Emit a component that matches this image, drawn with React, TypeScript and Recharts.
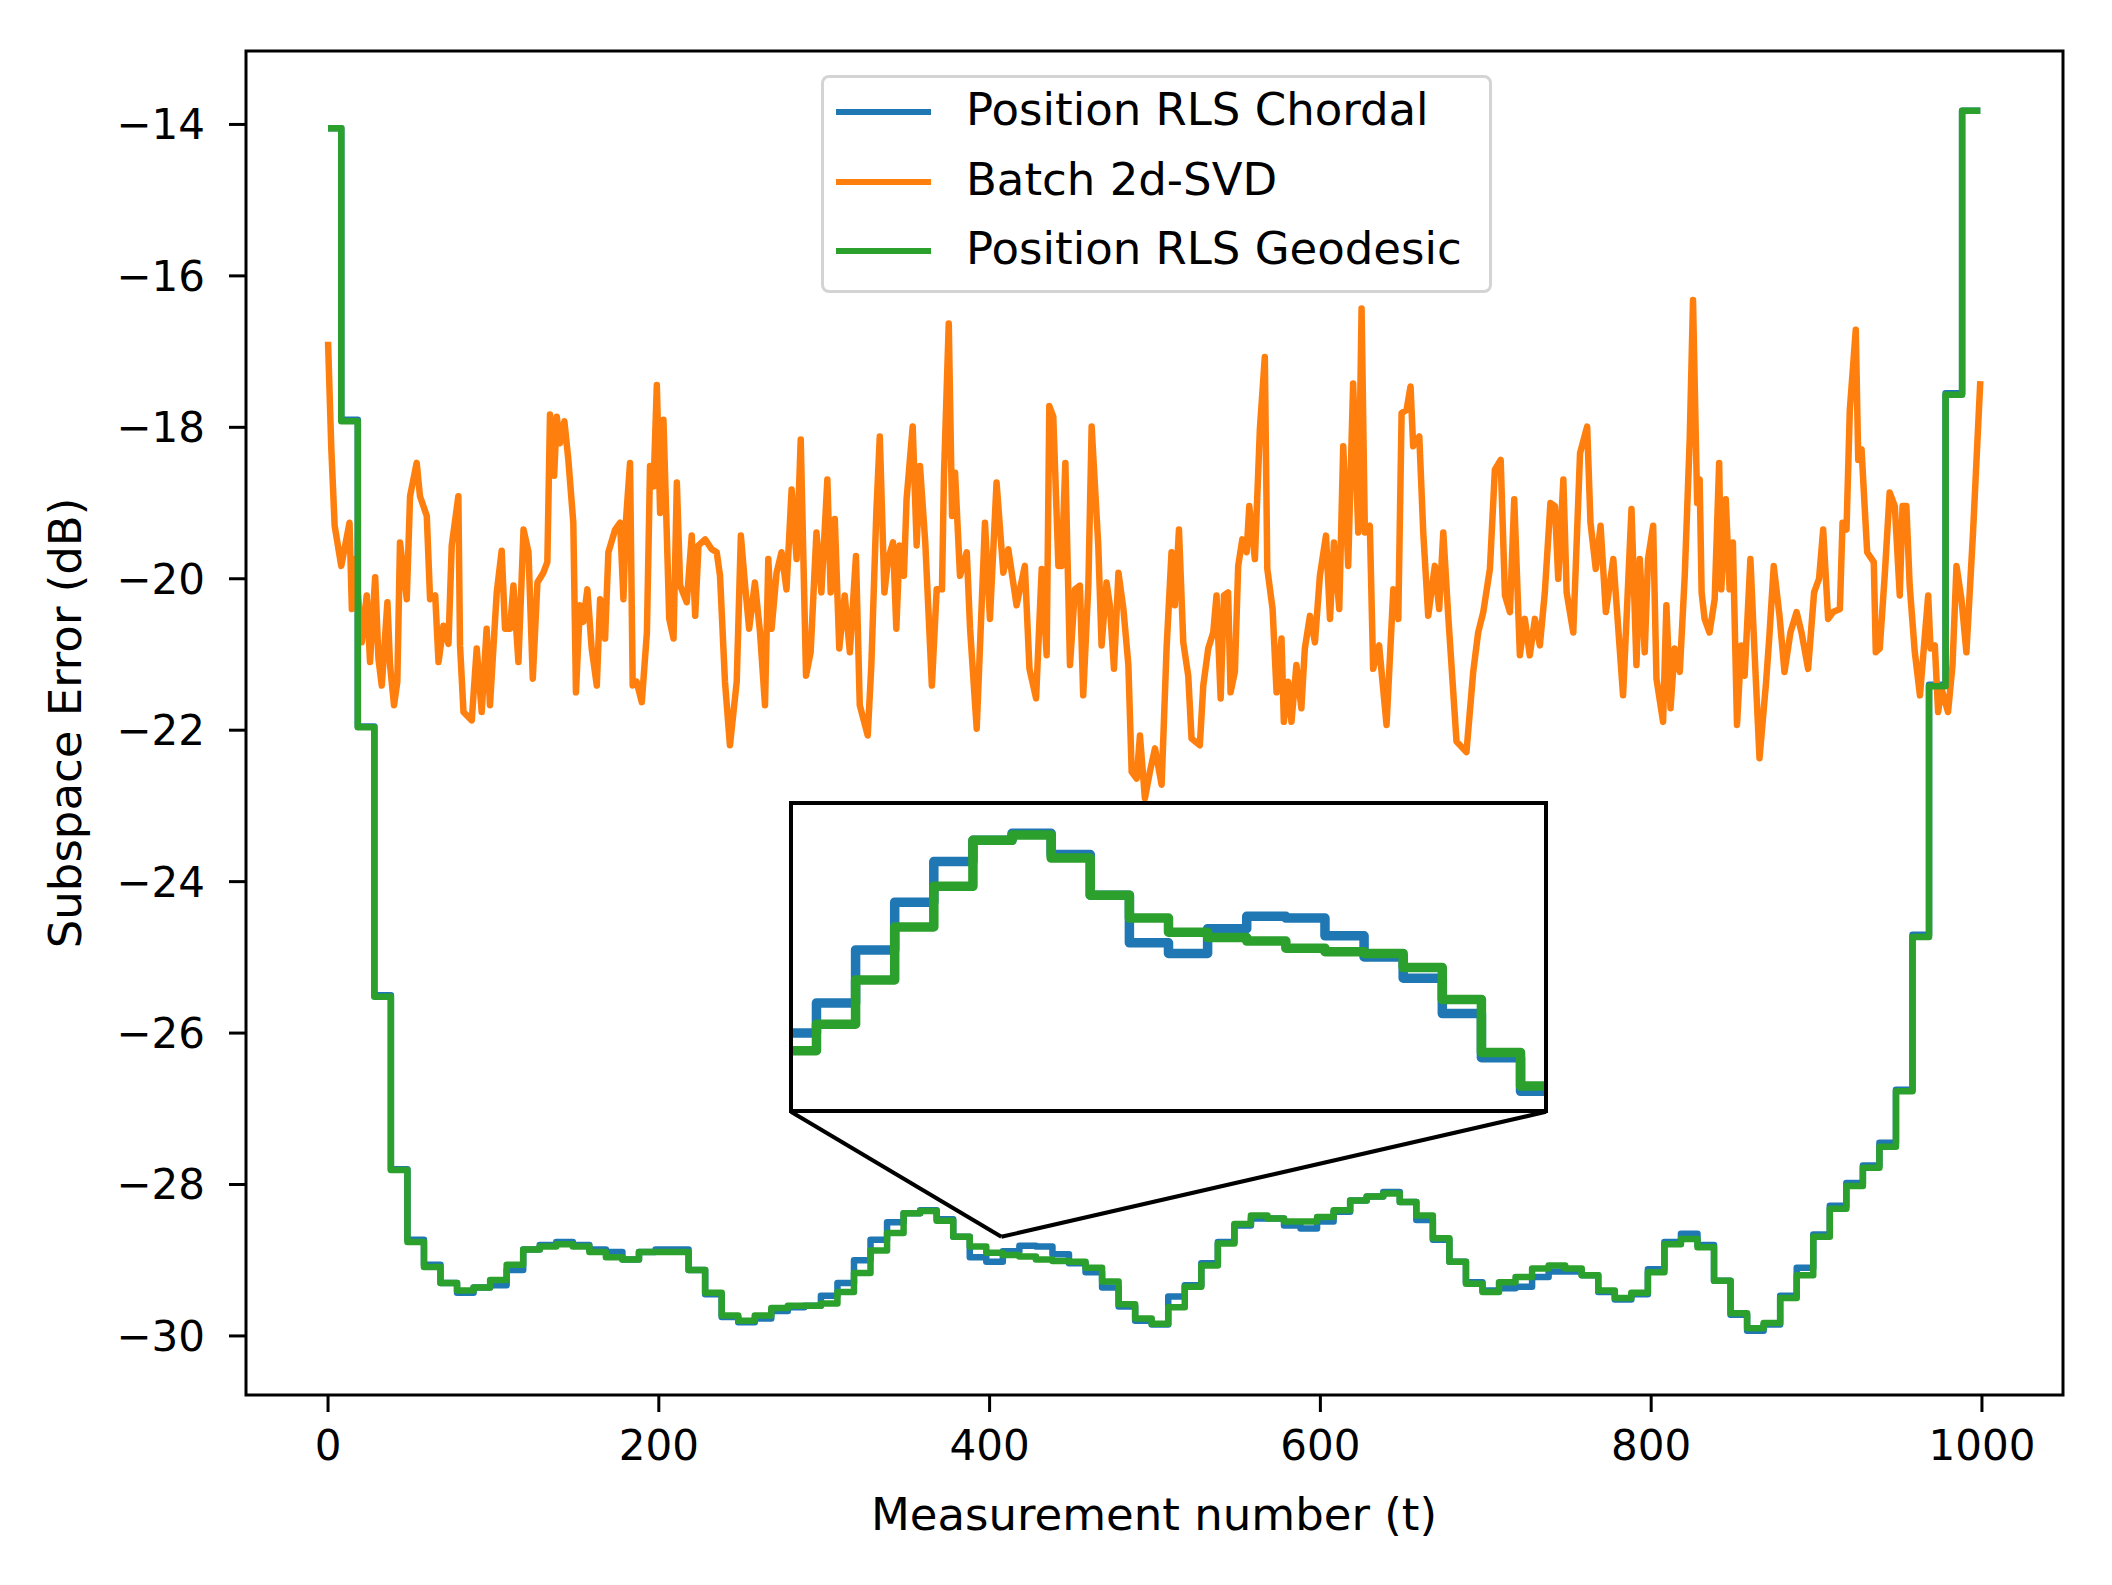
import React from 'react'
import {
  LineChart,
  Line,
  XAxis,
  YAxis,
  ReferenceArea,
  ReferenceLine,
  Legend,
  Label
} from 'recharts'

const FONT = '"DejaVu Sans", sans-serif'

// step start times of the RLS trackers (last entry = end of record)
const STEP_T = [
  0, 8, 18, 28, 38, 48, 58, 68, 78, 88, 98, 108, 118, 128, 138, 148, 158, 168, 178, 188,
  198, 208, 218, 228, 238, 248, 258, 268, 278, 288, 298, 308, 318, 328, 338, 348, 358, 368, 378, 388,
  398, 408, 418, 428, 438, 448, 458, 468, 478, 488, 498, 508, 518, 528, 538, 548, 558, 568, 578, 588,
  598, 608, 618, 628, 638, 648, 658, 668, 678, 688, 698, 708, 718, 728, 738, 748, 758, 768, 778, 788,
  798, 808, 818, 828, 838, 848, 858, 868, 878, 888, 898, 908, 918, 928, 938, 948, 958, 968, 978, 988,
  999
]

const CHORDAL_DB = [
  -14.05, -17.9, -21.95, -25.5, -27.8, -28.73, -29.06, -29.3, -29.43, -29.36,
  -29.33, -29.13, -28.86, -28.8, -28.76, -28.8, -28.86, -28.89, -28.99, -28.89,
  -28.86, -28.86, -29.13, -29.45, -29.75, -29.82, -29.77, -29.67, -29.62, -29.6,
  -29.47, -29.3, -29.0, -28.73, -28.5, -28.38, -28.34, -28.46, -28.69, -28.96,
  -29.02, -28.88, -28.81, -28.82, -28.92, -29.04, -29.16, -29.36, -29.61, -29.8,
  -29.85, -29.48, -29.33, -29.04, -28.76, -28.54, -28.45, -28.45, -28.54, -28.58,
  -28.49, -28.36, -28.21, -28.16, -28.1, -28.23, -28.47, -28.73, -29.02, -29.29,
  -29.4, -29.37, -29.35, -29.22, -29.15, -29.15, -29.2, -29.42, -29.52, -29.45,
  -29.12, -28.76, -28.65, -28.8, -29.27, -29.72, -29.93, -29.85, -29.47, -29.1,
  -28.66, -28.28, -27.98, -27.75, -27.45, -26.75, -24.7, -21.4, -17.55, -13.82
]

const GEODESIC_DB = [
  -14.05, -17.92, -21.96, -25.52, -27.81, -28.76, -29.09, -29.3, -29.4, -29.36,
  -29.26, -29.06, -28.86, -28.82, -28.79, -28.82, -28.89, -28.96, -28.99, -28.89,
  -28.89, -28.89, -29.13, -29.43, -29.73, -29.8, -29.73, -29.63, -29.6, -29.6,
  -29.57, -29.42, -29.17, -28.87, -28.64, -28.38, -28.35, -28.48, -28.69, -28.82,
  -28.9, -28.93, -28.95, -28.99, -29.01, -29.02, -29.1, -29.28, -29.58, -29.77,
  -29.84, -29.62, -29.35, -29.07, -28.78, -28.52, -28.41, -28.45, -28.49, -28.49,
  -28.43, -28.34, -28.21, -28.16, -28.12, -28.23, -28.41, -28.71, -29.02, -29.31,
  -29.42, -29.29, -29.22, -29.11, -29.07, -29.11, -29.2, -29.4, -29.5, -29.43,
  -29.16, -28.79, -28.72, -28.83, -29.27, -29.7, -29.9, -29.83, -29.5, -29.2,
  -28.69, -28.32, -28.02, -27.78, -27.5, -26.77, -24.73, -21.42, -17.57, -13.82
]

// batch SVD error
const BATCH_T = [
  0, 2, 4, 8, 13, 14.4, 16.4, 20.4, 23.4, 25.4, 28.5, 30.5, 32.5, 35.9, 37.5, 39.9, 41.9, 43.5, 47.6, 49.6,
  53.6, 55.6, 59.7, 61.7, 64.8, 66.8, 69.8, 72.8, 74.8, 78.8, 79.8, 81.9, 86.9, 89.9, 92.9, 95.9, 97.9, 102, 105, 107,
  110, 112.1, 115.1, 118.2, 121.2, 123.8, 126.6, 130.2, 132.6, 134.2, 136.7, 138.3, 140.3, 142.9, 145.3, 148.3, 149.9, 152.3, 154.3, 156.8,
  159.4, 162.5, 164.5, 167.5, 169.5, 173.6, 176.6, 178.6, 180.2, 182.6, 184.2, 186.6, 189.7, 192.8, 194.7, 196.8, 198.8, 200.8, 202.8, 204.8,
  206.3, 208.9, 210.9, 212.9, 216.9, 219.9, 222, 224, 228, 232, 235, 237, 240, 243, 247.1, 249.6, 252, 254.6, 258.1, 261.2,
  264.2, 266.2, 268.2, 271.2, 274.2, 277.2, 280.3, 283.3, 285.8, 289, 291.8, 295.3, 298.3, 301.9, 303.9, 306.4, 309.1, 312.4, 315.5, 319.2,
  321.5, 326.3, 328.5, 331.5, 333.6, 336.4, 338.6, 341.6, 343.6, 345.6, 348.2, 349.8, 353.5, 355.9, 357.9, 361.1, 365.1, 368, 371.2, 372.4,
  375.3, 377.3, 379.1, 382.1, 386.2, 388.2, 392.2, 397.2, 400.2, 404.2, 408.3, 411.3, 416.3, 421.3, 424.1, 428.1, 431.5, 434.5, 436.1, 438.5,
  441.6, 443.6, 445.8, 448.6, 451.6, 454.6, 456.6, 459.7, 461.7, 465.7, 467.7, 470.7, 472.7, 475.2, 477.9, 480.9, 483.9, 485.9, 488.9, 490.9,
  493.9, 496.9, 500, 504, 507, 510, 512, 514.5, 517.1, 520.1, 522.1, 527.1, 529.2, 532.2, 535.2, 537.2, 539.7, 541.7, 544.2, 545.7,
  548.3, 550.3, 552.8, 555.4, 557, 560.4, 563.4, 566.4, 567.9, 571.1, 573.5, 576.5, 577.9, 580.5, 582.5, 585.5, 588.5, 590.6, 593.7, 596.7,
  599.7, 603.4, 605.8, 608.2, 611.4, 613.8, 616.8, 619.8, 622.9, 624.9, 626.9, 629.9, 631.9, 635.5, 640, 644.1, 647.1, 649.1, 652.1, 654.5,
  656.1, 659.8, 662.2, 665.2, 669.2, 671.8, 674.3, 677.3, 682.3, 688.3, 692.4, 695.4, 698.5, 702.5, 705.5, 709, 711.6, 714.6, 717.2, 720.6,
  723.6, 726.6, 729.7, 732.7, 735.7, 739.1, 741.8, 743.8, 746.9, 748.9, 752.9, 757, 761.3, 763.3, 766.5, 769.4, 772.6, 777.1, 783, 788.1,
  791.1, 793.1, 796.1, 798.1, 801.2, 803.2, 807.2, 809.2, 811.7, 814.2, 817.3, 820.3, 823.3, 825.3, 827.8, 829.3, 830.5, 832.3, 835.3, 838.4,
  841.1, 842.4, 845.1, 847.4, 849.4, 851.9, 854.5, 856.5, 860, 862.5, 865.5, 869.5, 871.5, 874.1, 877.6, 880.6, 884.2, 887.9, 890.9, 894.9,
  898.5, 901.5, 904, 907, 910, 914.1, 915.7, 918.1, 920.1, 923.7, 925.2, 927.2, 928.6, 930.6, 934.6, 935.8, 938.2, 941.2, 944.2, 947.3,
  950.3, 952, 954.3, 956.3, 959.4, 962.5, 964.5, 967.5, 968.9, 971.5, 973.5, 975.5, 979.5, 982.2, 984.6, 987.6, 990.6, 994.6, 999
]

const BATCH_DB = [
  -16.87, -18.29, -19.3, -19.83, -19.26, -20.4, -19.74, -20.84, -20.22, -21.1, -19.98, -21.06, -21.41, -20.31, -21.14, -21.67, -21.36, -19.52, -20.27, -18.91,
  -18.47, -18.91, -19.17, -20.27, -20.22, -21.1, -20.62, -20.86, -19.56, -18.91, -20.88, -21.76, -21.87, -20.92, -21.76, -20.66, -21.67, -20.18, -19.63, -20.66,
  -20.66, -20.09, -21.1, -19.35, -19.65, -21.32, -20.05, -19.92, -19.78, -17.83, -18.64, -17.86, -18.21, -17.92, -18.43, -19.26, -21.5, -20.35, -20.57, -20.14,
  -20.92, -21.41, -20.27, -20.79, -19.65, -19.35, -19.26, -20.27, -19.21, -18.47, -21.41, -21.36, -21.63, -20.71, -18.51, -18.78, -17.44, -19.13, -17.9, -19.39,
  -20.53, -20.79, -18.73, -20.09, -20.31, -19.43, -20.49, -19.56, -19.48, -19.61, -19.65, -19.96, -21.36, -22.2, -21.36, -19.43, -20.05, -20.66, -20.05, -20.71,
  -21.67, -19.74, -20.66, -19.92, -19.65, -20.14, -18.82, -19.74, -18.16, -21.28, -20.97, -19.39, -20.18, -18.69, -20.18, -19.21, -20.92, -20.22, -20.97, -19.7,
  -21.67, -22.07, -21.14, -19.13, -18.12, -20.18, -19.74, -19.52, -20.66, -19.56, -19.96, -18.95, -17.99, -19.56, -18.51, -19.52, -21.41, -20.14, -20.14, -18.64,
  -16.63, -19.17, -18.6, -19.96, -19.65, -20.66, -21.98, -19.26, -20.53, -18.73, -19.92, -19.61, -20.35, -19.83, -21.19, -21.58, -19.87, -21.01, -17.72, -17.86,
  -19.83, -19.83, -18.47, -21.14, -20.14, -20.09, -21.54, -20.09, -17.99, -19.56, -20.88, -20.05, -20.35, -21.19, -19.92, -20.4, -21.14, -22.55, -22.64, -22.07,
  -22.9, -22.55, -22.24, -22.72, -20.92, -19.65, -20.35, -19.35, -20.84, -21.28, -22.11, -22.2, -21.41, -20.92, -20.71, -20.22, -21.58, -20.22, -20.18, -21.5,
  -21.23, -19.83, -19.48, -19.65, -19.04, -19.74, -18.03, -17.07, -19.87, -20.4, -21.5, -20.79, -21.89, -21.36, -21.89, -21.14, -21.71, -20.92, -20.49, -20.84,
  -19.96, -19.43, -20.53, -19.52, -20.4, -18.25, -19.83, -17.42, -19.39, -16.43, -19.39, -19.3, -21.19, -20.88, -21.93, -20.14, -20.53, -17.81, -17.77, -17.46,
  -18.25, -18.12, -19.39, -20.49, -19.83, -20.4, -19.39, -20.49, -22.15, -22.29, -21.23, -20.71, -20.44, -19.87, -18.56, -18.43, -20.22, -20.44, -18.95, -21.01,
  -20.53, -21.01, -20.53, -20.88, -20.18, -19.0, -19.04, -20.0, -18.69, -20.18, -20.71, -18.34, -17.99, -19.26, -19.87, -19.3, -20.44, -19.74, -21.54, -19.08,
  -21.14, -19.74, -20.97, -19.74, -19.3, -21.32, -21.89, -20.35, -21.71, -20.92, -21.23, -19.96, -18.16, -16.32, -19.0, -18.69, -20.18, -20.53, -20.71, -20.27,
  -18.47, -20.14, -18.95, -20.14, -19.52, -21.93, -20.88, -21.28, -19.74, -20.97, -22.37, -21.36, -20.75, -19.83, -20.49, -21.23, -20.71, -20.44, -20.71, -21.19,
  -20.18, -20.0, -19.35, -20.53, -20.44, -20.4, -19.26, -19.35, -17.77, -16.71, -18.43, -18.29, -18.86, -19.65, -19.78, -20.97, -20.92, -19.96, -18.86, -19.04,
  -20.22, -19.04, -19.04, -20.09, -20.97, -21.54, -21.01, -20.22, -20.92, -20.88, -21.76, -21.45, -21.76, -21.14, -19.83, -20.27, -20.97, -19.39, -17.39
]

const X_TICKS = [0, 200, 400, 600, 800, 1000]
const Y_TICKS = [-30, -28, -26, -24, -22, -20, -18, -16, -14]

const SERIES = [
  { key: 'chordal', name: 'Position RLS Chordal', color: '#1f77b4' },
  { key: 'batch', name: 'Batch 2d-SVD', color: '#ff7f0e' },
  { key: 'geodesic', name: 'Position RLS Geodesic', color: '#2ca02c' }
]

// zoomed window shown in the inset, and where its callout lines meet
const INSET_T: [number, number] = [302, 494]
const INSET_DB: [number, number] = [-29.9, -28.18]
const CALLOUT_LEFT = { x: 279.9, y: -27.04 }
const CALLOUT_RIGHT = { x: 736.4, y: -27.04 }
const CALLOUT_TIP = { x: 407.1, y: -28.69 }

const X_DOMAIN: [number, number] = [-49.6, 1049]
const Y_DOMAIN: [number, number] = [-30.78, -13.03]

const stepData = STEP_T.map((t, i) => ({
  t,
  chordal: CHORDAL_DB[Math.min(i, CHORDAL_DB.length - 1)],
  geodesic: GEODESIC_DB[Math.min(i, GEODESIC_DB.length - 1)]
}))

const batchData = BATCH_T.map((t, i) => ({ t, batch: BATCH_DB[i] }))

const minus = (v: number) => `${v}`.replace('-', '\u2212')

const renderLegend = () => (
  <div
    style={{
      boxSizing: 'border-box',
      width: 671,
      height: 218,
      border: '3px solid #d4d4d4',
      borderRadius: 8,
      background: 'rgba(255,255,255,0.8)',
      fontFamily: FONT,
      fontSize: 45,
      color: '#000'
    }}
  >
    {SERIES.map((s, i) => (
      <div
        key={s.key}
        style={{
          position: 'absolute',
          left: 3,
          top: 2 + i * 69.5,
          height: 70,
          display: 'flex',
          alignItems: 'center'
        }}
      >
        <span style={{ display: 'inline-block', marginLeft: 12, width: 95, height: 6, background: s.color }} />
        <span style={{ marginLeft: 35, lineHeight: '70px', position: 'relative', top: -2, whiteSpace: 'nowrap' }}>
          {s.name}
        </span>
      </div>
    ))}
  </div>
)

export default function App() {
  return (
    <div style={{ position: 'absolute', left: 0, top: 0, width: 2112, height: 1585, background: '#fff' }}>
      <LineChart width={2112} height={1585} margin={{ top: 51, right: 49, left: 0, bottom: 0 }}>
        <XAxis
          dataKey="t"
          type="number"
          domain={X_DOMAIN}
          allowDataOverflow
          ticks={X_TICKS}
          interval={0}
          height={190}
          axisLine={false}
          tickLine={{ stroke: '#000', strokeWidth: 3 }}
          tickSize={17}
          tickMargin={18}
          tick={{ fontSize: 42, fill: '#000', fontFamily: FONT }}
        >
          <Label
            content={() => (
              <text x={1154} y={1530} textAnchor="middle" fontSize={45} fontFamily={FONT} fill="#000">
                Measurement number (t)
              </text>
            )}
          />
        </XAxis>
        <YAxis
          type="number"
          domain={Y_DOMAIN}
          allowDataOverflow
          ticks={Y_TICKS}
          interval={0}
          width={246}
          axisLine={false}
          tickLine={{ stroke: '#000', strokeWidth: 3 }}
          tickSize={17}
          tickMargin={24}
          tickFormatter={minus}
          tick={{ fontSize: 42, fill: '#000', fontFamily: FONT }}
        >
          <Label
            content={() => (
              <text
                x={81}
                y={723}
                transform="rotate(-90 81 723)"
                textAnchor="middle"
                fontSize={45}
                fontFamily={FONT}
                fill="#000"
              >
                Subspace Error (dB)
              </text>
            )}
          />
        </YAxis>
        <Line
          data={stepData}
          dataKey="chordal"
          name={SERIES[0].name}
          type="stepAfter"
          stroke={SERIES[0].color}
          strokeWidth={6.5}
          strokeLinejoin="round"
          dot={false}
          isAnimationActive={false}
        />
        <Line
          data={batchData}
          dataKey="batch"
          name={SERIES[1].name}
          type="linear"
          stroke={SERIES[1].color}
          strokeWidth={6.5}
          strokeLinejoin="round"
          dot={false}
          isAnimationActive={false}
        />
        <Line
          data={stepData}
          dataKey="geodesic"
          name={SERIES[2].name}
          type="stepAfter"
          stroke={SERIES[2].color}
          strokeWidth={6.5}
          strokeLinejoin="round"
          dot={false}
          isAnimationActive={false}
        />
        <ReferenceLine segment={[CALLOUT_LEFT, CALLOUT_TIP]} stroke="#000" strokeWidth={4} />
        <ReferenceLine segment={[CALLOUT_RIGHT, CALLOUT_TIP]} stroke="#000" strokeWidth={4} />
        <ReferenceArea
          x1={X_DOMAIN[0]}
          x2={X_DOMAIN[1]}
          y1={Y_DOMAIN[0]}
          y2={Y_DOMAIN[1]}
          fill="none"
          fillOpacity={0}
          stroke="#000"
          strokeWidth={3}
        />
        <Legend
          layout="vertical"
          align="center"
          verticalAlign="middle"
          wrapperStyle={{ left: 821, top: 75, width: 671, height: 218 }}
          content={renderLegend}
        />
      </LineChart>

      {/* zoomed inset */}
      <div
        style={{
          position: 'absolute',
          left: 789,
          top: 801,
          width: 759,
          height: 312,
          boxSizing: 'border-box',
          border: '4px solid #000',
          background: '#fff'
        }}
      >
        <LineChart width={751} height={304} margin={{ top: 0, right: 0, left: 0, bottom: 0 }}>
          <XAxis dataKey="t" type="number" domain={INSET_T} allowDataOverflow hide />
          <YAxis type="number" domain={INSET_DB} allowDataOverflow hide />
          <Line
            data={stepData}
            dataKey="chordal"
            type="stepAfter"
            stroke={SERIES[0].color}
            strokeWidth={9.5}
            strokeLinejoin="round"
            dot={false}
            isAnimationActive={false}
          />
          <Line
            data={stepData}
            dataKey="geodesic"
            type="stepAfter"
            stroke={SERIES[2].color}
            strokeWidth={9.5}
            strokeLinejoin="round"
            dot={false}
            isAnimationActive={false}
          />
        </LineChart>
      </div>
    </div>
  )
}
